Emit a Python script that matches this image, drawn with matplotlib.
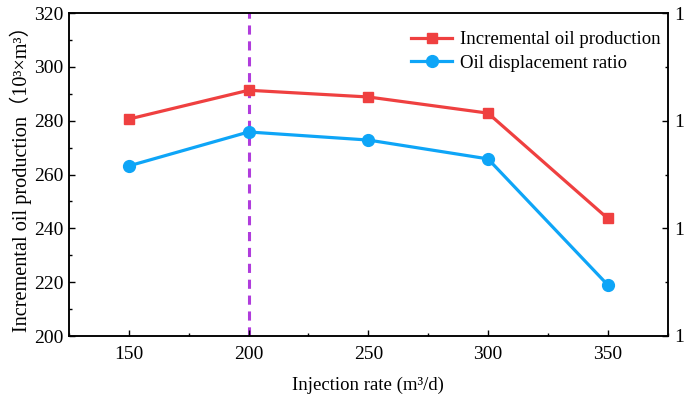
"""Incremental oil production and displacement ratio vs injection rate."""

import matplotlib
matplotlib.use("Agg")
import matplotlib.pyplot as plt
from matplotlib.ticker import MultipleLocator, FixedLocator, FixedFormatter

# data
injection_rate = [150, 200, 250, 300, 350]
incremental_oil = [280.6, 291.3, 288.8, 282.8, 243.7]
displacement_ratio = [13.16, 13.79, 13.64, 13.29, 10.95]

# right axis: only the leading "1" of each label is visible in the source
right_ticks = [10, 12, 14, 16]
right_tick_labels = ["1", "1", "1", "1"]

RED = "#EF4040"
BLUE = "#0EA5F7"
PURPLE = "#B03CDC"

plt.rcParams["font.family"] = ["Liberation Serif", "Noto Sans CJK SC"]
plt.rcParams["font.size"] = 13.5

fig = plt.figure(figsize=(6.91, 4.0), dpi=100)
ax = fig.add_axes([0.1, 0.16, 0.866, 0.8075])
ax2 = ax.twinx()

l1, = ax.plot(injection_rate, incremental_oil, color=RED, lw=2.3,
              marker="s", ms=7.5, label="Incremental oil production")
l2, = ax2.plot(injection_rate, displacement_ratio, color=BLUE, lw=2.3,
               marker="o", ms=8.5, label="Oil displacement ratio")
ax.axvline(200, color=PURPLE, lw=2.2, ls=(0, (3, 2.2)), zorder=1)

ax.set_xlim(125, 375)
ax.set_ylim(200, 320)
ax2.set_ylim(10, 16)
ax.xaxis.set_major_locator(MultipleLocator(50))
ax.xaxis.set_minor_locator(MultipleLocator(25))
ax.yaxis.set_major_locator(MultipleLocator(20))
ax.yaxis.set_minor_locator(MultipleLocator(10))
ax2.yaxis.set_major_locator(FixedLocator(right_ticks))
ax2.yaxis.set_major_formatter(FixedFormatter(right_tick_labels))
ax2.yaxis.set_minor_locator(MultipleLocator(1))

for a in (ax, ax2):
    for s in a.spines.values():
        s.set_linewidth(1.1)
ax.tick_params(which="both", direction="in", width=1.0, labelsize=14)
ax.tick_params(which="major", length=4)
ax.tick_params(which="minor", length=2.5)
ax.tick_params(axis="y", pad=4)
ax.tick_params(axis="x", pad=7)
ax2.tick_params(which="both", direction="in", width=1.0, labelsize=14, pad=4.5)
ax2.tick_params(which="major", length=4)
ax2.tick_params(which="minor", length=2.5)

ax.set_xlabel("Injection rate (m³/d)", fontsize=13.5, labelpad=10)
ax.set_ylabel("Incremental oil production（10³×m³）", fontsize=14.6, labelpad=1.5)

ax.legend(handles=[l1, l2], loc="upper right", frameon=False, fontsize=13.5,
          handlelength=2.2, handletextpad=0.4, labelspacing=0.35,
          bbox_to_anchor=(1.01, 0.985), borderaxespad=0.3)

fig.savefig("out.png", dpi=100)
